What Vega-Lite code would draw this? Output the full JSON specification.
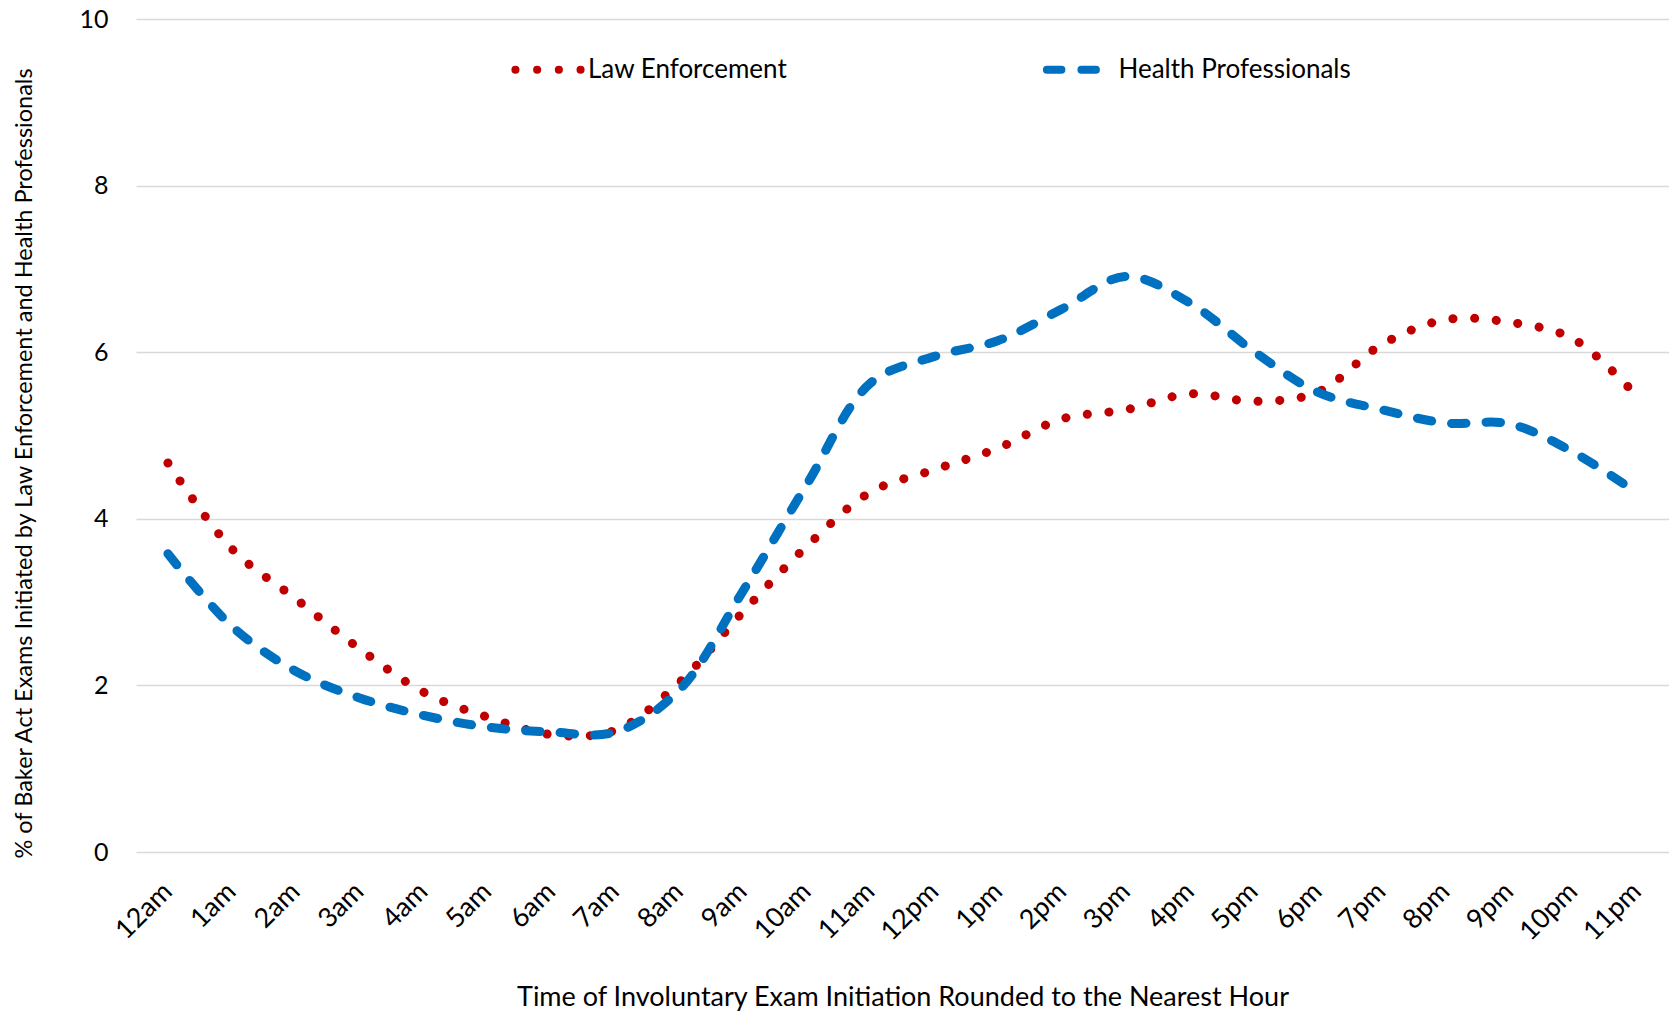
{
  "$schema": "https://vega.github.io/schema/vega-lite/v6.json",
  "autosize": {"type": "none"},
  "padding": {"left": 136, "top": 19, "right": 0, "bottom": 163},
  "width": 1533,
  "height": 833,
  "background": "white",
  "config": {
    "font": "Lato",
    "view": {"stroke": null}
  },
  "data": {
    "values": [
      {"hour": "12am", "series": "Law Enforcement", "pct": 4.67},
      {"hour": "1am", "series": "Law Enforcement", "pct": 3.64},
      {"hour": "2am", "series": "Law Enforcement", "pct": 3.04},
      {"hour": "3am", "series": "Law Enforcement", "pct": 2.44},
      {"hour": "4am", "series": "Law Enforcement", "pct": 1.92},
      {"hour": "5am", "series": "Law Enforcement", "pct": 1.62},
      {"hour": "6am", "series": "Law Enforcement", "pct": 1.41},
      {"hour": "7am", "series": "Law Enforcement", "pct": 1.46},
      {"hour": "8am", "series": "Law Enforcement", "pct": 2.03},
      {"hour": "9am", "series": "Law Enforcement", "pct": 2.88},
      {"hour": "10am", "series": "Law Enforcement", "pct": 3.67},
      {"hour": "11am", "series": "Law Enforcement", "pct": 4.32},
      {"hour": "12pm", "series": "Law Enforcement", "pct": 4.59},
      {"hour": "1pm", "series": "Law Enforcement", "pct": 4.85},
      {"hour": "2pm", "series": "Law Enforcement", "pct": 5.2},
      {"hour": "3pm", "series": "Law Enforcement", "pct": 5.31},
      {"hour": "4pm", "series": "Law Enforcement", "pct": 5.5},
      {"hour": "5pm", "series": "Law Enforcement", "pct": 5.41},
      {"hour": "6pm", "series": "Law Enforcement", "pct": 5.52},
      {"hour": "7pm", "series": "Law Enforcement", "pct": 6.09},
      {"hour": "8pm", "series": "Law Enforcement", "pct": 6.39},
      {"hour": "9pm", "series": "Law Enforcement", "pct": 6.36},
      {"hour": "10pm", "series": "Law Enforcement", "pct": 6.16},
      {"hour": "11pm", "series": "Law Enforcement", "pct": 5.47},
      {"hour": "12am", "series": "Health Professionals", "pct": 3.58},
      {"hour": "1am", "series": "Health Professionals", "pct": 2.71},
      {"hour": "2am", "series": "Health Professionals", "pct": 2.17},
      {"hour": "3am", "series": "Health Professionals", "pct": 1.85},
      {"hour": "4am", "series": "Health Professionals", "pct": 1.64},
      {"hour": "5am", "series": "Health Professionals", "pct": 1.5},
      {"hour": "6am", "series": "Health Professionals", "pct": 1.44},
      {"hour": "7am", "series": "Health Professionals", "pct": 1.44},
      {"hour": "8am", "series": "Health Professionals", "pct": 1.94},
      {"hour": "9am", "series": "Health Professionals", "pct": 3.13},
      {"hour": "10am", "series": "Health Professionals", "pct": 4.41},
      {"hour": "11am", "series": "Health Professionals", "pct": 5.63},
      {"hour": "12pm", "series": "Health Professionals", "pct": 5.95},
      {"hour": "1pm", "series": "Health Professionals", "pct": 6.14},
      {"hour": "2pm", "series": "Health Professionals", "pct": 6.52},
      {"hour": "3pm", "series": "Health Professionals", "pct": 6.91},
      {"hour": "4pm", "series": "Health Professionals", "pct": 6.59},
      {"hour": "5pm", "series": "Health Professionals", "pct": 6.01},
      {"hour": "6pm", "series": "Health Professionals", "pct": 5.52},
      {"hour": "7pm", "series": "Health Professionals", "pct": 5.31},
      {"hour": "8pm", "series": "Health Professionals", "pct": 5.15},
      {"hour": "9pm", "series": "Health Professionals", "pct": 5.14},
      {"hour": "10pm", "series": "Health Professionals", "pct": 4.8},
      {"hour": "11pm", "series": "Health Professionals", "pct": 4.31}
    ]
  },
  "mark": {"type": "line", "interpolate": "catmull-rom", "strokeWidth": 9, "strokeCap": "round", "strokeJoin": "round"},
  "encoding": {
    "x": {
      "field": "hour",
      "type": "nominal",
      "sort": ["12am","1am","2am","3am","4am","5am","6am","7am","8am","9am","10am","11am","12pm","1pm","2pm","3pm","4pm","5pm","6pm","7pm","8pm","9pm","10pm","11pm"],
      "scale": {"type": "point", "padding": 0.5},
      "axis": {
        "title": "Time of Involuntary Exam Initiation Rounded to the Nearest Hour",
        "titleFontSize": 27,
        "titleFontWeight": "normal",
        "titleColor": "#000000",
        "titlePadding": 40,
        "labelAngle": -45,
        "labelAlign": "right",
        "labelBaseline": "top",
        "labelPadding": 26,
        "labelOffset": -9.6,
        "labelFontSize": 27,
        "labelColor": "#000000",
        "domain": false,
        "ticks": false,
        "grid": false
      }
    },
    "y": {
      "field": "pct",
      "type": "quantitative",
      "scale": {"domain": [0, 10], "nice": false, "zero": true},
      "axis": {
        "title": "% of Baker Act Exams Initiated by Law Enforcement and Health Professionals",
        "titleFontSize": 23.5,
        "titleFontWeight": "normal",
        "titleColor": "#000000",
        "titlePadding": 42,
        "titleY": 444,
        "values": [0, 2, 4, 6, 8, 10],
        "labelFontSize": 25,
        "labelColor": "#000000",
        "labelPadding": 28,
        "domain": false,
        "ticks": false,
        "grid": true,
        "gridColor": "#d9d9d9",
        "gridWidth": 1.5
      }
    },
    "color": {
      "field": "series",
      "type": "nominal",
      "sort": ["Law Enforcement", "Health Professionals"],
      "scale": {"domain": ["Law Enforcement", "Health Professionals"], "range": ["#C00000", "#0070C0"]},
      "legend": {
        "title": null,
        "orient": "none",
        "legendX": 375,
        "legendY": 13,
        "direction": "horizontal",
        "symbolType": "stroke",
        "symbolSize": 4382,
        "symbolStrokeWidth": 8,
        "labelFontSize": 26,
        "labelColor": "#000000",
        "labelOffset": 2,
        "columnPadding": 227.5,
        "labelLimit": 400,
        "encode": {
          "symbols": {"update": {
            "strokeCap": {"value": "round"},
            "strokeDash": {"signal": "datum.value === 'Health Professionals' ? [17, 16] : [0.1, 21.9]"},
            "strokeDashOffset": {"signal": "datum.value === 'Health Professionals' ? -15 : 0"}
          }},
          "labels": {"update": {
            "dx": {"signal": "datum.value === 'Health Professionals' ? 14 : 0"}
          }}
        }
      }
    },
    "strokeDash": {
      "field": "series",
      "type": "nominal",
      "sort": ["Law Enforcement", "Health Professionals"],
      "scale": {"domain": ["Law Enforcement", "Health Professionals"], "range": [[0.1, 21.6], [14.5, 20]]},
      "legend": null
    }
  }
}
